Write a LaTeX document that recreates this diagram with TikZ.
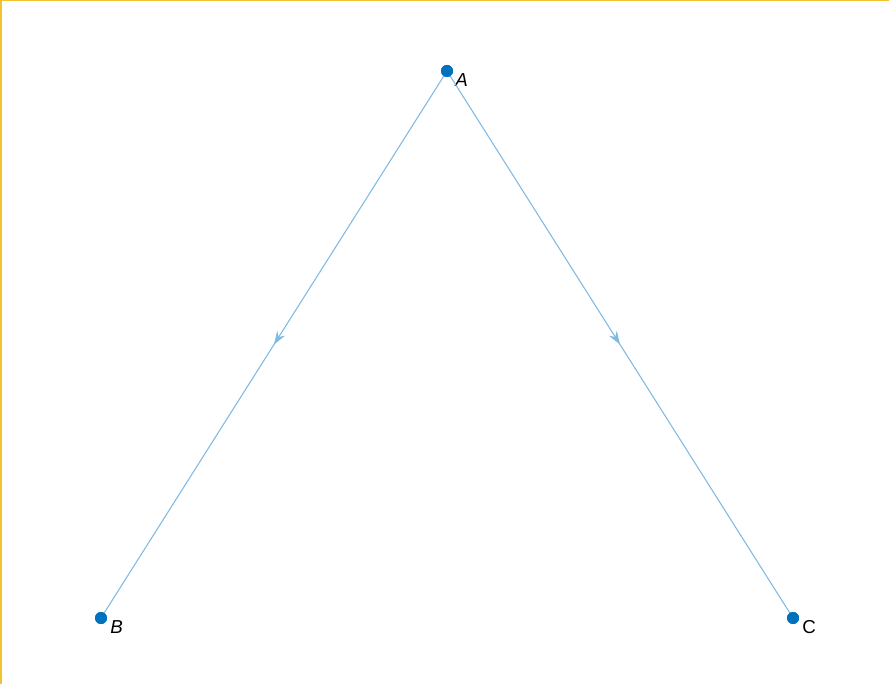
\documentclass[tikz,border=0pt]{standalone}
\usepackage{fontspec}
\setmainfont{Liberation Sans}
\usetikzlibrary{decorations.markings,arrows.meta}
\definecolor{vertblue}{HTML}{0072BD}
\definecolor{edgeblue}{HTML}{80B9E1}
\definecolor{frameyellow}{HTML}{F2C230}

\begin{document}
\begin{tikzpicture}[x=0.03cm, y=-0.03cm,
    vert/.style={circle, fill=vertblue, inner sep=0pt, minimum size=0.36cm},
    lbl/.style={font=\fontsize{16}{18}\selectfont, inner sep=1pt},
    edgeline/.style={edgeblue, line width=0.9pt,
        postaction={decorate, decoration={markings,
            mark=at position 0.5 with {\arrow{Stealth[length=4mm, width=2.8mm, inset=1.4mm]}}}}}]
    % frame
    \useasboundingbox (0,0) rectangle (889,684);
    \fill[white] (0,0) rectangle (889,684);
    \fill[frameyellow] (0,0) rectangle (2,684);
    \fill[frameyellow] (0,0) rectangle (889,1.2);

    % vertices
    \node[vert] (A) at (447,71) {};
    \node[vert] (B) at (101,618) {};
    \node[vert] (C) at (793,618) {};
    \node[lbl, anchor=west] (Alab) at (454,80) {\itshape A};
    \node[lbl, anchor=west] (Blab) at (109,627) {\itshape B};
    \node[lbl, anchor=west] (Clab) at (801,627) {C};

    % edges
    \draw[edgeline] (A.center) -- (B.center);
    \draw[edgeline] (A.center) -- (C.center);
    \node[vert] at (A) {};
    \node[vert] at (B) {};
    \node[vert] at (C) {};
\end{tikzpicture}
\end{document}
